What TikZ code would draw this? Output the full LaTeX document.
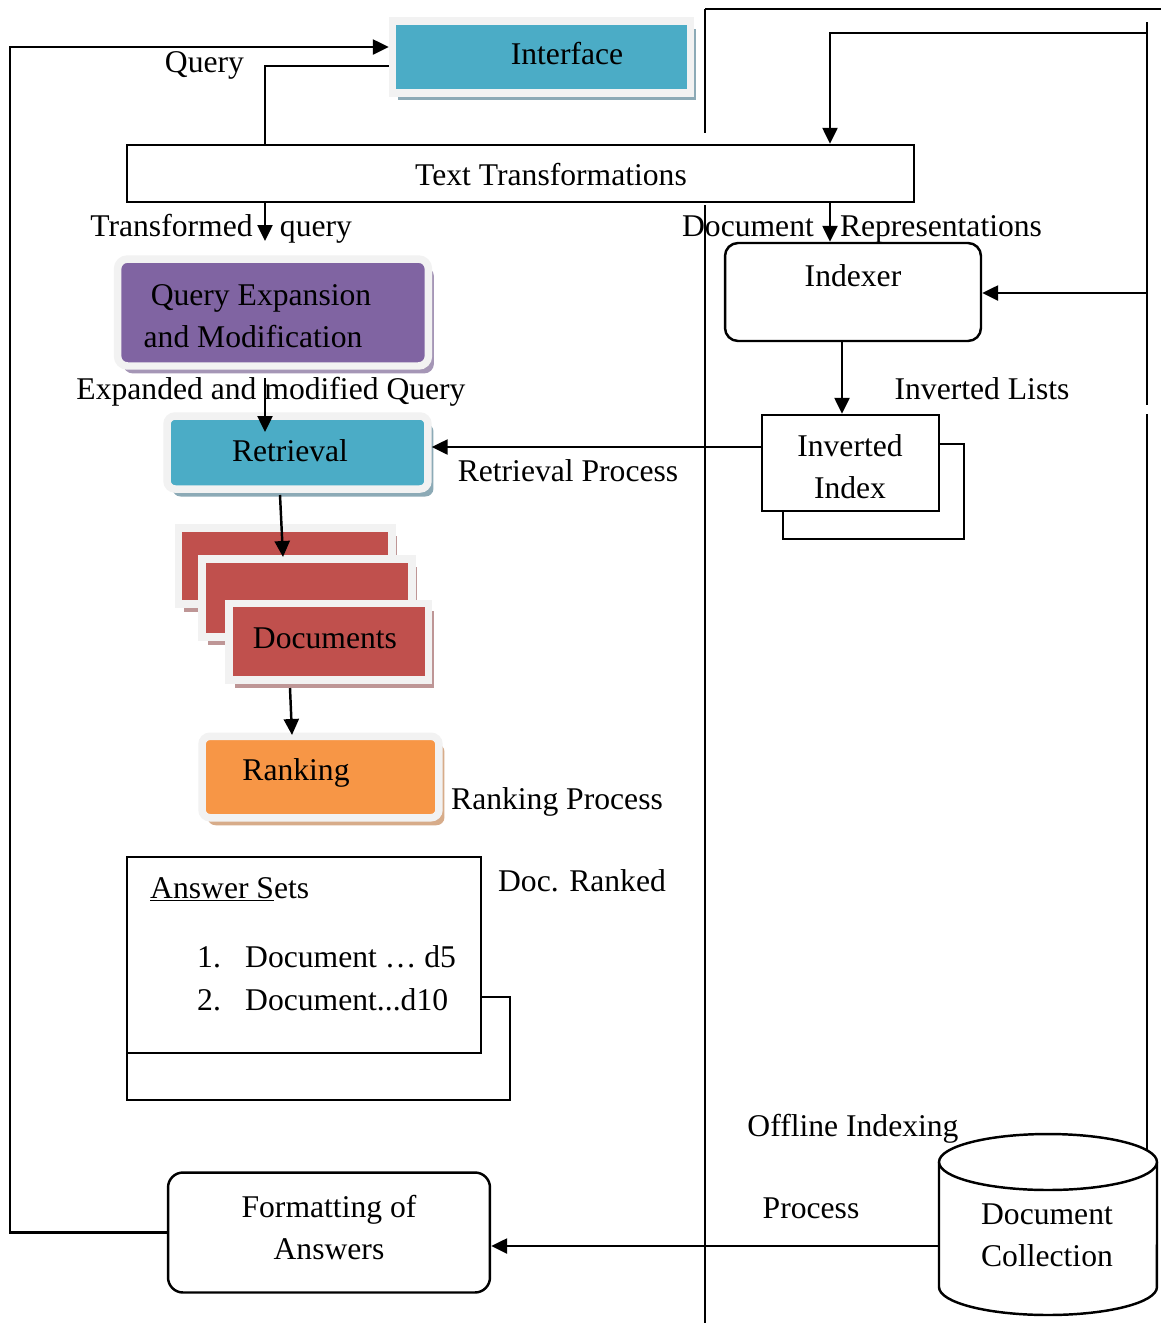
\documentclass[tikz,border=0pt]{standalone}
\usepackage{fontspec}
\setmainfont{Liberation Serif}
\usetikzlibrary{arrows.meta,shadows}

\definecolor{aquafill}{HTML}{4BACC6}
\definecolor{purplefill}{HTML}{8064A2}
\definecolor{redfill}{HTML}{C0504D}
\definecolor{orangefill}{HTML}{F79646}
\definecolor{framegray}{HTML}{F2F2F2}
\definecolor{aquashade}{RGB}{140,170,182}
\definecolor{purpleshade}{RGB}{165,150,182}
\definecolor{redshade}{RGB}{190,150,150}
\definecolor{orangeshade}{RGB}{215,172,138}

\begin{document}
\begin{tikzpicture}[x=0.02cm, y=-0.02cm,
  font=\fontsize{18}{24}\selectfont,
  line width=1.4pt,
  arr/.style={-{Triangle[length=0.32cm,width=0.3cm]}},
  panel/.style 2 args={draw=framegray, line width=0.15cm, fill=#1,
    drop shadow={shadow xshift=0.11cm, shadow yshift=-0.15cm, fill=#2, opacity=1}},
  plainbox/.style={draw, line width=1.4pt, fill=white},
  roundbox/.style={draw, line width=1.4pt, fill=white, rounded corners=0.26cm},
  txt/.style={inner sep=0pt, align=center, text height=13.5pt, text depth=1.8pt}]

% page
\fill[white] (0,0) rectangle (1161,1323);
\useasboundingbox (0,0) rectangle (1161,1323);

% free ends of connectors
\coordinate (lc) at (10,47);
\coordinate (qx) at (265,66);
\coordinate (tq) at (265,241);
\coordinate (eq1) at (265,378);
\coordinate (eq2) at (265,432);
\coordinate (ri) at (762,447);
\coordinate (rd1) at (280,495);
\coordinate (rd2) at (283,557);
\coordinate (dr1) at (290,688);
\coordinate (dr2) at (292,735);
\coordinate (rtop) at (1147,33);
\coordinate (dx) at (830,33);
\coordinate (ridx) at (1147,293);
\coordinate (ix) at (842,341);
\coordinate (dcl) at (939,1246);

% online / offline separators
\draw (705,9) -- (705,133);
\draw (705,205) -- (705,1323);
\draw (705,9) -- (1161,9);
\draw (1147,22) -- (1147,405);
\draw (1147,414) -- (1147,1150);

% coloured panels
\node[panel={aquafill}{aquashade}, minimum width=5.96cm, minimum height=1.44cm] (iface) at (541.5,57) {};
\node[txt] (iface-t) at (567,54) {Interface};

\node[panel={purplefill}{purpleshade}, rounded corners=0.2cm, minimum width=6.22cm, minimum height=2.14cm] (qe) at (273,312.5) {};
\node[txt] (qe-t1) at (261,295) {Query Expansion};
\node[txt] (qe-t2) at (253,337) {and Modification};

\node[panel={aquafill}{aquashade}, rounded corners=0.16cm, minimum width=5.22cm, minimum height=1.46cm] (rt) at (297.5,452.5) {};
\node[txt] (rt-t) at (290,451) {Retrieval};

\node[panel={redfill}{redshade}, minimum width=4.27cm, minimum height=1.52cm] (doc1) at (285.25,566) {};
\node[panel={redfill}{redshade}, minimum width=4.2cm, minimum height=1.56cm] (doc2) at (307,598) {};
\node[panel={redfill}{redshade}, minimum width=3.99cm, minimum height=1.53cm] (doc3) at (328.75,641.75) {};
\node[txt] (doc-t) at (325,638) {Documents};

\node[panel={orangefill}{orangeshade}, rounded corners=0.16cm, minimum width=4.74cm, minimum height=1.63cm] (rk) at (320.5,777) {};
\node[txt] (rk-t) at (296,770) {Ranking};

% plain boxes
\node[plainbox, minimum width=15.74cm, minimum height=1.14cm] (tt) at (520.5,173.5) {};
\node[txt] (tt-t) at (551,175) {Text Transformations};

\node[roundbox, minimum width=5.12cm, minimum height=1.96cm] (idx) at (853,292) {};
\node[txt] (idx-t) at (853,276) {Indexer};

\draw (939,444) -- (964,444) -- (964,539) -- (783,539) -- (783,511);
\node[plainbox, minimum width=3.54cm, minimum height=1.92cm] (inv) at (850.5,463) {};
\node[txt] (inv-t1) at (850,446) {Inverted};
\node[txt] (inv-t2) at (850,488) {Index};

\draw (481,997) -- (510,997) -- (510,1100) -- (127,1100) -- (127,1053);
\node[plainbox, minimum width=7.08cm, minimum height=3.92cm] (ans) at (304,955) {};
\node[txt, anchor=base west] (ans-h) at (149,898) {\underline{Answer S}ets};
\node[txt, anchor=base west] (ans-n1) at (196,967) {1.};
\node[txt, anchor=base west] (ans-i1) at (244,967) {Document … d5};
\node[txt, anchor=base west] (ans-n2) at (196,1010) {2.};
\node[txt, anchor=base west] (ans-i2) at (244,1010) {Document...d10};

\node[roundbox, rounded corners=0.3cm, minimum width=6.44cm, minimum height=2.4cm] (fmt) at (329,1232.5) {};
\node[txt] (fmt-t1) at (329,1207) {Formatting of};
\node[txt] (fmt-t2) at (329,1249) {Answers};

% document collection cylinder
\fill[white] (939,1162) -- (939,1287) arc[start angle=180, end angle=360, x radius=2.18cm, y radius=0.56cm] -- (1157,1162) -- cycle;
\draw (939,1162) -- (939,1287) arc[start angle=180, end angle=360, x radius=2.18cm, y radius=0.56cm] -- (1157,1162);
\draw[fill=white] (1048,1162) ellipse [x radius=2.18cm, y radius=0.56cm];
\node[txt] (dc-t1) at (1047,1214) {Document};
\node[txt] (dc-t2) at (1047,1256) {Collection};

% connectors
\draw[arr] (fmt.west) -| (lc) -- (lc -| iface.west);
\draw (tt.north -| qx) -- (qx) -- (qx -| iface.west);
\draw[arr] (tt.south -| qx) -- (tq);
\draw[arr] (eq1) -- (eq2);
\draw[arr] (ri) -- (ri -| rt.east);
\draw[arr] (rd1) -- (rd2);
\draw[arr] (dr1) -- (dr2);
\draw[arr] (rtop) -- (dx) -- (tt.north -| dx);
\draw[arr] (tt.south -| dx) -- (idx.north -| dx);
\draw[arr] (ridx) -- (idx.east |- ridx);
\draw[arr] (idx.south -| ix) -- (inv.north -| ix);
\draw[arr] (dcl) -- (dcl -| fmt.east);

% connector labels
\node[txt] (l-query) at (204.5,62) {Query};
\node[txt] (l-tq1) at (171.5,226) {Transformed};
\node[txt] (l-tq2) at (316,226) {query};
\node[txt] (l-dr1) at (748,226) {Document};
\node[txt] (l-dr2) at (941,226) {Representations};
\node[txt] (l-emq) at (271,389) {Expanded and modified Query};
\node[txt] (l-il) at (982,389) {Inverted Lists};
\node[txt] (l-rp) at (568,471) {Retrieval Process};
\node[txt] (l-rkp) at (557,799) {Ranking Process};
\node[txt] (l-dr) at (582,881) {Doc. Ranked};
\node[txt] (l-oi) at (853,1126) {Offline Indexing};
\node[txt] (l-p) at (811,1208) {Process};
\end{tikzpicture}
\end{document}
